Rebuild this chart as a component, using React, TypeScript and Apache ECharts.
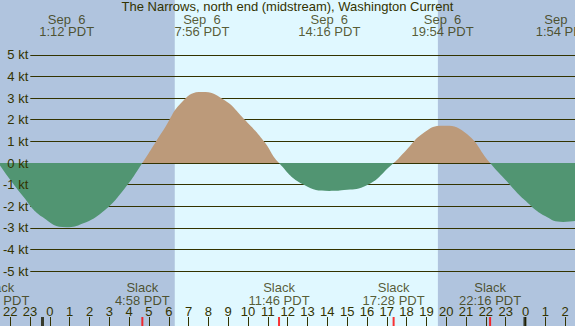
import React, { useEffect, useRef } from "react";
import * as echarts from "echarts";

// ---- data (hours since midnight Sep 6, knots) ----
const TITLE = "The Narrows, north end (midstream), Washington Current";

const curveHours = [-2.2, -1, 0, 1.2, 2, 3, 4, 4.967, 6, 7, 7.933, 9, 10, 11, 11.767, 13, 14.267, 15, 16, 17.467, 18, 19, 19.9, 21, 22.267, 23, 24, 25, 25.9, 26.6];
const curveKnots = [0, -1.5, -2.5, -2.97, -2.8, -2.25, -1.28, 0, 1.5, 2.88, 3.28, 2.93, 2.06, 1.02, 0, -1.01, -1.29, -1.25, -1.08, 0, 0.5, 1.42, 1.72, 1.42, 0, -0.75, -1.72, -2.45, -2.72, -2.66];

const maxTimes = [1.2, 7.933, 14.267, 19.9, 25.9];
const maxDates = ["Sep  6", "Sep  6", "Sep  6", "Sep  6", "Sep  7"];
const maxLabels = ["1:12 PDT", "7:56 PDT", "14:16 PDT", "19:54 PDT", "1:54 PDT"];

const slackTimes = [-2.2, 4.967, 11.767, 17.467, 22.267];
const slackLabels = ["21:48 PDT", "4:58 PDT", "11:46 PDT", "17:28 PDT", "22:16 PDT"];

const daylight = [6.58, 19.67];
const hourRange = [-2, 26];
const midnights = [0, 24];
const knotRange = [-5, 5];

// ---- layout / style ----
const W = 575;
const H = 326;
const X_MIN = -2.114;
const X_MAX = 26.49;
const Y_MIN = -7.53;
const Y_MAX = 7.53;
const PX_H = W / (X_MAX - X_MIN);
const KT_PX = H / (Y_MAX - Y_MIN);
const ZERO_FRAC = Y_MAX / (Y_MAX - Y_MIN);
const TOP_LABEL_Y = 6.35;
const SLACK_LABEL_Y = -6.05;
const KNOT_GRID_PAD = (Y_MAX - knotRange[1]) * KT_PX;
const HOUR_GRID_LEFT = (hourRange[0] - X_MIN) * PX_H;
const HOUR_GRID_RIGHT = (X_MAX - hourRange[1]) * PX_H;
const TICK_LEN = 9;

const NIGHT = "#b0c4de";
const DAY = "#e0f8ff";
const FLOOD = "#bc9a7a";
const EBB = "#519572";
const INK = "#333300";
const FONT = "Liberation Sans";

const txt = { color: INK, fontSize: 13, fontFamily: FONT };

export default function App() {
  const ref = useRef<HTMLDivElement>(null);
  useEffect(() => {
    if (!ref.current) return;
    const chart = echarts.init(ref.current, null, { renderer: "svg" });
    const areaFill = new echarts.graphic.LinearGradient(
      0, 0, 0, H,
      [
        { offset: 0, color: FLOOD },
        { offset: ZERO_FRAC, color: FLOOD },
        { offset: ZERO_FRAC, color: EBB },
        { offset: 1, color: EBB },
      ],
      true
    );
    chart.setOption({
      animation: false,
      backgroundColor: NIGHT,
      title: {
        text: TITLE,
        left: "center",
        top: 0,
        padding: 0,
        textStyle: { ...txt, fontWeight: "normal" },
      },
      grid: [
        { left: 0, right: 0, top: 0, bottom: 0 },
        { left: 30, right: 0, top: KNOT_GRID_PAD, bottom: KNOT_GRID_PAD },
        { left: HOUR_GRID_LEFT, right: HOUR_GRID_RIGHT, top: 0, bottom: 0 },
      ],
      xAxis: [
        { gridIndex: 0, type: "value", min: X_MIN, max: X_MAX, show: false },
        { gridIndex: 1, type: "value", min: 0, max: 1, show: false },
        {
          gridIndex: 2,
          type: "value",
          min: hourRange[0],
          max: hourRange[1],
          interval: 1,
          position: "bottom",
          z: 5,
          axisLine: { show: false },
          splitLine: { show: false },
          axisTick: { show: true, inside: true, length: TICK_LEN, lineStyle: { color: INK, width: 1 } },
          axisLabel: {
            show: true,
            inside: true,
            margin: 8,
            formatter: (v: number) => String(((Math.round(v) % 24) + 24) % 24),
            ...txt,
          },
        },
      ],
      yAxis: [
        { gridIndex: 0, type: "value", min: Y_MIN, max: Y_MAX, show: false },
        {
          gridIndex: 1,
          type: "value",
          position: "left",
          min: knotRange[0],
          max: knotRange[1],
          interval: 1,
          z: 2,
          axisLine: { show: false },
          axisTick: { show: false },
          axisLabel: { show: false },
          splitLine: { show: true, lineStyle: { color: INK, width: 1 } },
        },
        {
          gridIndex: 1,
          type: "value",
          position: "left",
          offset: 0,
          min: knotRange[0],
          max: knotRange[1],
          interval: 1,
          z: 4,
          axisLine: { show: false },
          axisTick: { show: false },
          splitLine: { show: false },
          axisLabel: { show: true, margin: 2, formatter: (v: number) => `${v} kt`, ...txt },
        },
        { gridIndex: 2, type: "value", min: 0, max: 1, show: false },
      ],
      series: [
        {
          type: "line",
          xAxisIndex: 0,
          yAxisIndex: 0,
          data: [[X_MIN, 0]],
          symbol: "none",
          lineStyle: { opacity: 0 },
          silent: true,
          z: 1,
          markArea: {
            silent: true,
            itemStyle: { color: DAY },
            data: [[{ xAxis: daylight[0] }, { xAxis: daylight[1] }]],
          },
        },
        {
          type: "line",
          xAxisIndex: 0,
          yAxisIndex: 0,
          z: 3,
          smooth: 0.5,
          symbol: "none",
          silent: true,
          lineStyle: { width: 0, opacity: 0 },
          areaStyle: { opacity: 1, color: areaFill },
          data: curveHours.map((h, i) => [h, curveKnots[i]]),
        },
        {
          type: "scatter",
          xAxisIndex: 0,
          yAxisIndex: 0,
          z: 5,
          clip: false,
          silent: true,
          symbolSize: 1,
          itemStyle: { color: "transparent" },
          label: { show: true, position: "inside", lineHeight: 12.5, align: "center", ...txt },
          data: [
            ...maxTimes.map((t, i) => ({
              value: [t, TOP_LABEL_Y],
              label: { formatter: `${maxDates[i]}\n${maxLabels[i]}` },
            })),
            ...slackTimes.map((t, i) => ({
              value: [t, SLACK_LABEL_Y],
              label: { formatter: `Slack\n${slackLabels[i]}` },
            })),
          ],
        },
        {
          type: "scatter",
          xAxisIndex: 0,
          yAxisIndex: 0,
          z: 6,
          clip: false,
          silent: true,
          symbol: "rect",
          symbolSize: [3, TICK_LEN],
          symbolOffset: [0, -TICK_LEN / 2],
          itemStyle: { color: "#1a1a00" },
          data: midnights.map((t) => [t, Y_MIN]),
        },
        {
          type: "scatter",
          xAxisIndex: 0,
          yAxisIndex: 0,
          z: 7,
          clip: false,
          silent: true,
          symbol: "rect",
          symbolSize: [2, TICK_LEN],
          symbolOffset: [0, -TICK_LEN / 2],
          itemStyle: { color: "#ff0000" },
          data: slackTimes.map((t) => [t, Y_MIN]),
        },
      ],
    });
    return () => chart.dispose();
  }, []);
  return <div ref={ref} style={{ position: "fixed", left: 0, top: 0, width: W, height: H }} />;
}
